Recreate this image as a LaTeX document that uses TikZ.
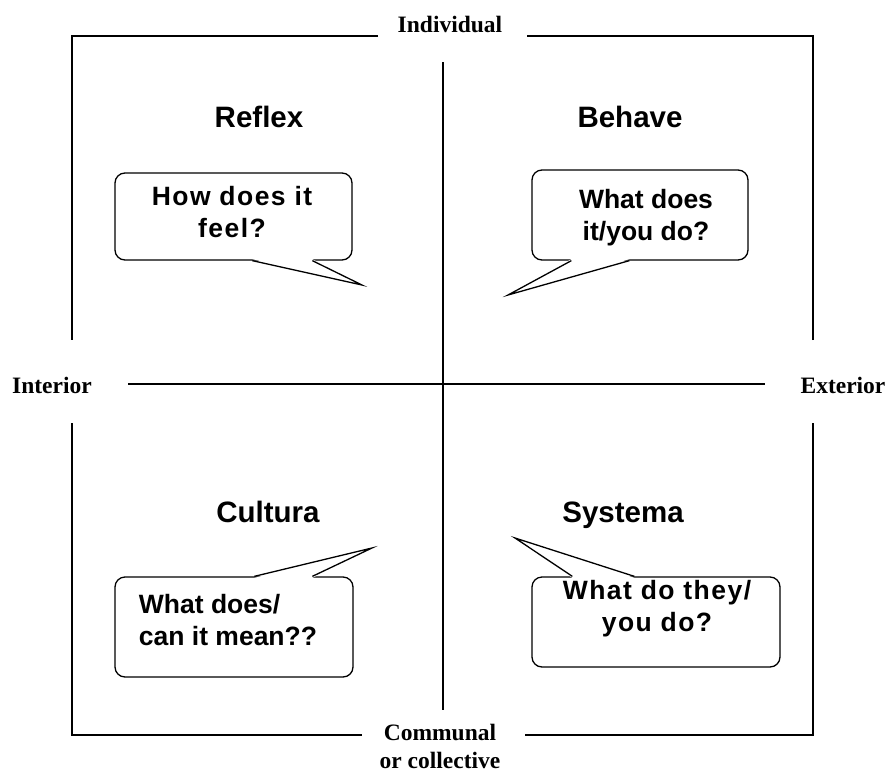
\documentclass[tikz,border=0pt]{standalone}
\usepackage{fontspec}
\setmainfont{Liberation Serif}
\newfontfamily\arialfont{Liberation Sans}
\newfontfamily\arialwide[LetterSpace=5.5]{Liberation Sans}
\tikzset{
  axislabel/.style={font=\fontsize{23.5}{28}\selectfont\bfseries, inner sep=0pt, align=center},
  quadname/.style={font=\arialfont\fontsize{29.5}{34}\selectfont\bfseries, inner sep=0pt, anchor=base},
  bubble/.style={draw, line width=1.3pt, rounded corners=10pt, fill=white, inner sep=0pt},
  saying/.style={font=\arialfont\fontsize{26.5}{32}\selectfont\bfseries, inner sep=0pt, align=center},
  widesaying/.style={saying, font=\arialwide\fontsize{26.5}{32}\selectfont\bfseries},
  tail/.style={line width=1.3pt, line join=miter},
}
\begin{document}
\begin{tikzpicture}[x=1pt, y=-1pt, line width=1.4pt]
\useasboundingbox (0,0) rectangle (889,774);

% axis labels
\node[axislabel, anchor=base] (ind) at (450,32) {Individual};
\node[axislabel, anchor=base] (int) at (52,393) {Interior};
\node[axislabel, anchor=base] (ext) at (843,393) {Exterior};
\node[axislabel] (com) at (440,746) {Communal\\or collective};

% outer frame, broken at the labels
\draw (378,36) -| (72,340);
\draw (72,423) |- (362,735);
\draw (525,735) -| (813,423);
\draw (813,340) |- (527,36);

% quadrant axes
\coordinate (top) at (443,62);
\coordinate (bot) at (443,710);
\coordinate (lft) at (128,384);
\coordinate (rgt) at (765,384);
\draw (top) -- (bot);
\draw (lft) -- (rgt);

% quadrant names
\node[quadname] (reflex) at (259,127) {Reflex};
\node[quadname] (behave) at (630,127) {Behave};
\node[quadname] (cultura) at (268,522) {Cultura};
\node[quadname] (systema) at (623,522) {Systema};

% upper left
\node[bubble, minimum width=237pt, minimum height=87pt] (feelbox) at (233.5,216.5) {};
\coordinate (feeltip) at (362,285);
\fill[white] ([xshift=138pt, yshift=1.5pt]feelbox.south west) -- (feeltip) -- ([xshift=198pt, yshift=1.5pt]feelbox.south west) -- cycle;
\draw[tail] ([xshift=138pt]feelbox.south west) -- (feeltip) -- ([xshift=198pt]feelbox.south west);
\node[widesaying] (feel) at (232,212.5) {How does it\\feel?};

% upper right
\node[bubble, minimum width=216pt, minimum height=90pt] (dobox) at (640,215) {};
\coordinate (dotip) at (508,295);
\fill[white] ([xshift=40pt, yshift=1.5pt]dobox.south west) -- (dotip) -- ([xshift=98pt, yshift=1.5pt]dobox.south west) -- cycle;
\draw[tail] ([xshift=40pt]dobox.south west) -- (dotip) -- ([xshift=98pt]dobox.south west);
\node[saying] (do) at (646,218) {What does\\it/you do?};

% lower left
\node[bubble, minimum width=238pt, minimum height=100pt] (meanbox) at (234,627) {};
\coordinate (meantip) at (372,548);
\fill[white] ([xshift=140pt, yshift=-1.5pt]meanbox.north west) -- (meantip) -- ([xshift=198pt, yshift=-1.5pt]meanbox.north west) -- cycle;
\draw[tail] ([xshift=140pt]meanbox.north west) -- (meantip) -- ([xshift=198pt]meanbox.north west);
\node[saying, align=left] (mean) at (228,620) {What does/\\can it mean??};

% lower right
\node[bubble, minimum width=248pt, minimum height=90pt] (theybox) at (656,622) {};
\coordinate (theytip) at (515,538);
\fill[white] ([xshift=41pt, yshift=-1.5pt]theybox.north west) -- (theytip) -- ([xshift=103pt, yshift=-1.5pt]theybox.north west) -- cycle;
\draw[tail] ([xshift=41pt]theybox.north west) -- (theytip) -- ([xshift=103pt]theybox.north west);
\node[widesaying] (they) at (657,609) {What do they/\\you do?};
\end{tikzpicture}
\end{document}
